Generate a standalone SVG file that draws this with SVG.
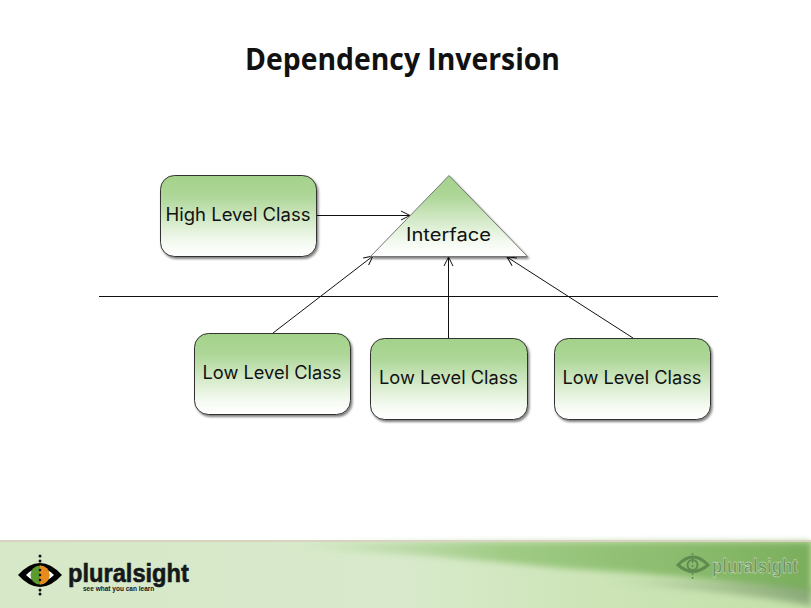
<svg xmlns="http://www.w3.org/2000/svg" width="811" height="608" viewBox="0 0 811 608">
<defs>
<linearGradient id="nodeFill" x1="0" y1="0" x2="0" y2="1">
<stop offset="0" stop-color="#a3d28a"/><stop offset="0.25" stop-color="#add697"/><stop offset="0.7" stop-color="#e6f3df"/><stop offset="0.85" stop-color="#f6fbf3"/><stop offset="1" stop-color="#ffffff"/>
</linearGradient>
<linearGradient id="footerBase" x1="0" y1="0" x2="1" y2="0">
<stop offset="0" stop-color="#d6e8c8"/><stop offset="0.5" stop-color="#d8eacb"/><stop offset="0.75" stop-color="#cce4b6"/><stop offset="1" stop-color="#c4e0a8"/>
</linearGradient>
<linearGradient id="wedge" x1="0" y1="0" x2="1" y2="0">
<stop offset="0" stop-color="#8fc272" stop-opacity="0"/><stop offset="0.4" stop-color="#8fc272" stop-opacity="0.75"/><stop offset="1" stop-color="#7aae5c"/>
</linearGradient>
<linearGradient id="swooshDark" x1="0" y1="0" x2="1" y2="0">
<stop offset="0" stop-color="#7f9f70" stop-opacity="0"/><stop offset="1" stop-color="#7f9f70" stop-opacity="0.8"/>
</linearGradient>
<filter id="shadow" x="-10%" y="-10%" width="125%" height="125%">
<feDropShadow dx="1.500" dy="2" stdDeviation="1.300" flood-color="#000" flood-opacity="0.5"/>
</filter>
<filter id="soft" x="-10%" y="-40%" width="120%" height="180%"><feGaussianBlur stdDeviation="3"/></filter>
<marker id="open" viewBox="0 0 12 12" refX="11" refY="6" markerWidth="12" markerHeight="12" markerUnits="userSpaceOnUse" orient="auto">
<path d="M2 1.500L11 6L2 10.500" fill="none" stroke="#111" stroke-width="1"/>
</marker>
</defs>
<style>
.box{fill:url(#nodeFill);stroke:#333;stroke-width:1;filter:url(#shadow)}
.lbl{font-family:"Inter","DejaVu Sans",sans-serif;font-size:18px;fill:#111;text-anchor:middle}
.con{fill:none;stroke:#111;stroke-width:1}
.title{font-family:"Open Sans","Noto Sans",sans-serif;font-weight:700;font-size:30px;fill:#111;text-anchor:middle}
.brand{font-family:"Liberation Sans",sans-serif;font-weight:700}
</style>
<rect width="811" height="608" fill="#fff"/>
<text class="title" x="402.500" y="70" textLength="315" lengthAdjust="spacingAndGlyphs">Dependency Inversion</text>

<g id="connectors">
<line class="con" x1="99" y1="296.500" x2="718" y2="296.500"/>
<line class="con" x1="316" y1="215.500" x2="410" y2="215.500" marker-end="url(#open)"/>
<line class="con" x1="273" y1="333" x2="373" y2="256" marker-end="url(#open)"/>
<line class="con" x1="448.500" y1="338" x2="448.500" y2="257" marker-end="url(#open)"/>
<line class="con" x1="633" y1="338" x2="507" y2="257" marker-end="url(#open)"/>
</g>

<g id="node-high">
<rect class="box" x="160.500" y="175.500" width="156" height="81" rx="14"/>
<text class="lbl" x="238" y="221" textLength="145" lengthAdjust="spacingAndGlyphs">High Level Class</text>
</g>
<g id="node-interface">
<path d="M449 175.500L527.500 256.500H370.500Z" fill="url(#nodeFill)" stroke="#777" stroke-width="1" filter="url(#shadow)"/>
<text class="lbl" x="448.500" y="241" textLength="85" lengthAdjust="spacingAndGlyphs">Interface</text>
</g>
<g id="node-low-1">
<rect class="box" x="194.500" y="333.500" width="156" height="81" rx="14"/>
<text class="lbl" x="272" y="379" textLength="139" lengthAdjust="spacingAndGlyphs">Low Level Class</text>
</g>
<g id="node-low-2">
<rect class="box" x="370.500" y="338.500" width="157" height="81" rx="14"/>
<text class="lbl" x="448.500" y="384" textLength="139" lengthAdjust="spacingAndGlyphs">Low Level Class</text>
</g>
<g id="node-low-3">
<rect class="box" x="554.500" y="338.500" width="156" height="81" rx="14"/>
<text class="lbl" x="632" y="384" textLength="139" lengthAdjust="spacingAndGlyphs">Low Level Class</text>
</g>

<g id="footer">
<rect x="0" y="541" width="811" height="67" fill="url(#footerBase)"/>
<path d="M300 542H811V594C740 582 660 574 560 568C480 560 400 552 300 550Z" fill="url(#wedge)" filter="url(#soft)"/>
<path d="M600 582C680 588 760 596 811 606V590C760 582 680 578 600 582Z" fill="url(#swooshDark)" filter="url(#soft)"/>
<rect x="0" y="540" width="811" height="2" fill="#d8d3c0"/>

<g id="logo-left">
<path d="M18 575Q40 551 62 575Q40 599 18 575Z" fill="#000"/>
<path d="M26 575Q40 561 54 575Q40 589 26 575Z" fill="#fff"/>
<circle cx="40" cy="575" r="9.500" fill="#5b9a2e"/>
<path d="M40 565.500A9.500 9.500 0 0 1 40 584.500Z" fill="#e98a1c"/>
<g fill="#111"><circle cx="40" cy="556" r="1.500"/><circle cx="40" cy="561" r="1.500"/><circle cx="40" cy="570" r="1.300"/><circle cx="40" cy="575" r="1.300"/><circle cx="40" cy="580" r="1.300"/><circle cx="40" cy="590" r="1.500"/><circle cx="40" cy="594" r="1.500"/></g>
<text class="brand" transform="translate(68 582) scale(0.91 1)" font-size="26" fill="#15181a" stroke="#15181a" stroke-width="0.6">pluralsight</text>
<text class="brand" transform="translate(83 590.500) scale(0.87 1)" font-size="7.500" fill="#15181a">see what you can learn</text>
</g>
<g id="logo-right">
<path d="M678 565Q693 549 708 565Q693 578 678 565Z" fill="none" stroke="#5f8a50" stroke-width="3"/>
<circle cx="692.500" cy="565" r="5" fill="none" stroke="#5f8a50" stroke-width="2"/>
<line x1="692.500" y1="553" x2="692.500" y2="579" stroke="#5f8a50" stroke-width="1.500" stroke-dasharray="2 2"/>
<text class="brand" transform="translate(712 573) scale(0.8 1)" font-size="21" fill="#6d9262" stroke="#e0eed6" stroke-width="0.4">pluralsight</text>
</g>
</g>
</svg>
